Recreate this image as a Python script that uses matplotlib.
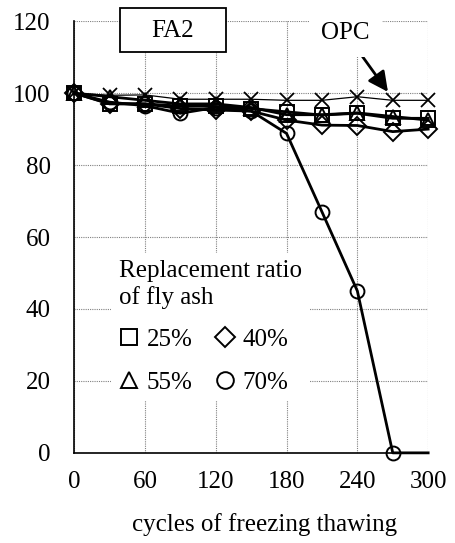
import numpy as np
import matplotlib.pyplot as plt
from matplotlib.lines import Line2D
from matplotlib.patches import Rectangle

plt.rcParams['font.family'] = ['Liberation Serif', 'DejaVu Serif']

cycles = [0, 30, 60, 90, 120, 150, 180, 210, 240, 270, 300]
opc = [100, 99.4, 99.5, 98.3, 98.3, 98.3, 98, 98, 99, 98, 98]
fa25 = [100, 97.1, 97, 96.4, 96.3, 95.7, 94.8, 93.9, 94.4, 93, 93]
fa40 = [100, 97, 97, 95.7, 95.3, 95, 92.5, 91.1, 91, 89.3, 90]
fa55 = [100, 99, 98, 97, 97, 96, 94, 94, 94.5, 93.5, 92.5]
fa70 = [100, 97.5, 96.5, 94.4, 96, 95, 88.8, 67, 45, 0, 0]

series = [(fa25, 's', '25%'), (fa40, 'D', '40%'), (fa55, '^', '55%'), (fa70, 'o', '70%')]

fig = plt.figure(figsize=(4.55, 5.43), dpi=100)
ax = fig.add_axes([0.163, 0.166, 0.778, 0.795])

ax.plot(cycles, opc, color='black', lw=0.9, marker='x', ms=10, mew=1.3,
        zorder=3, clip_on=False)
for vals, m, lab in series:
    ms = 9 if m == 'D' else 10
    every = list(range(10)) if m == 'o' else None
    ax.plot(cycles, vals, color='black', lw=2, marker=m, ms=ms, markevery=every,
            mfc='none', mec='black', mew=1.4, zorder=3, clip_on=False)

ax.set_xlim(0, 300)
ax.set_ylim(0, 120)
ax.set_xticks(np.arange(0, 301, 60))
ax.set_yticks(np.arange(0, 121, 20))
ax.grid(True, ls=(0, (1, 1)), color='gray', lw=0.8)
ax.spines['top'].set_visible(False)
ax.spines['right'].set_visible(False)
ax.tick_params(length=0, labelsize=18, pad=13)
ax.tick_params(axis='y', pad=17)
for s in ('left', 'bottom'):
    ax.spines[s].set_linewidth(1.2)

fig.text(265 / 455, 1 - 525 / 543, 'cycles of freezing thawing', fontsize=18,
         ha='center', va='center')

# FA2 box
fig.patches.append(Rectangle((120 / 455, 1 - 52 / 543), 106 / 455, 44 / 543,
                             transform=fig.transFigure, fc='white', ec='black',
                             lw=1.3, zorder=5))
fig.text(173 / 455, 1 - 31 / 543, 'FA2', fontsize=18, ha='center', va='center',
         zorder=6)

# OPC label with arrow
ax.annotate('OPC', xy=(268, 99.4), xytext=(230, 116.7), fontsize=18,
            ha='center', va='center',
            bbox=dict(boxstyle='square,pad=0.5', fc='white', ec='none'),
            arrowprops=dict(arrowstyle='-|>', color='black', lw=2,
                            mutation_scale=30, shrinkA=0, shrinkB=3),
            annotation_clip=False, zorder=5)

handles = [Line2D([], [], ls='none', marker=m, ms=(12 if m != 'D' else 10),
                  mfc='none', mec='black', mew=1.4) for _, m, _ in series]
labels = [lab for _, _, lab in series]
order = [0, 2, 1, 3]
leg = ax.legend([handles[i] for i in order], [labels[i] for i in order],
                ncol=2, title='Replacement ratio\nof fly ash', fontsize=18,
                title_fontsize=18, loc='upper left', bbox_to_anchor=(0.07, 0.493),
                frameon=True, fancybox=False, edgecolor='none', framealpha=1,
                handlelength=0.8, handletextpad=0.3, columnspacing=0.9,
                labelspacing=0.8, borderpad=0.3)
leg._legend_box.align = 'left'
leg.set_zorder(4)

fig.savefig('out.png', dpi=100)
